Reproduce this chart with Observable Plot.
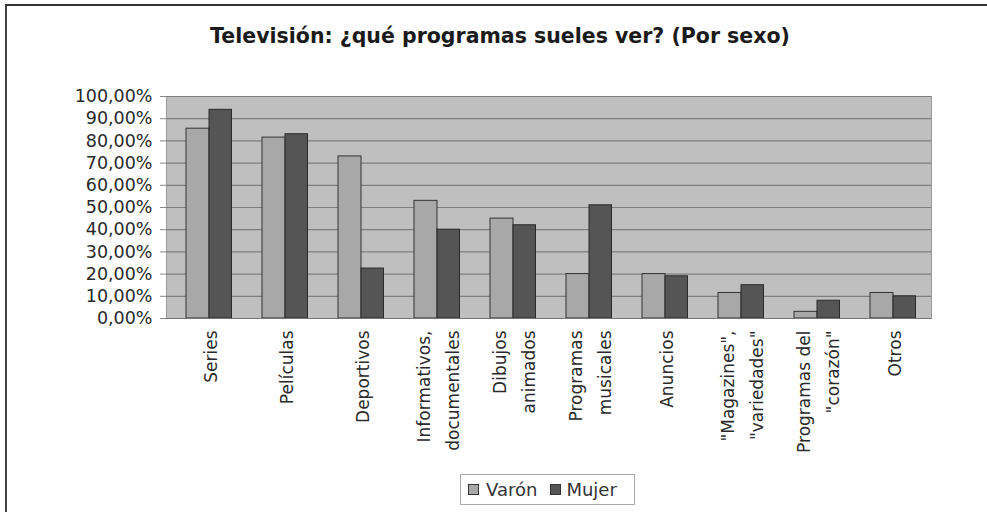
<!DOCTYPE html>
<html>
<head>
<meta charset="utf-8">
<script src="https://cdn.jsdelivr.net/npm/d3@7"></script>
<script src="https://cdn.jsdelivr.net/npm/@observablehq/plot@0.6"></script>
<style>
  html, body { margin: 0; padding: 0; background: #fff; }
  #wrap { position: relative; width: 987px; height: 512px; overflow: hidden; font-family: "DejaVu Sans", sans-serif; color: #222; }
  #border { position: absolute; left: 5px; top: 4px; width: 990px; height: 520px; border-top: 2px solid #333; border-left: 2px solid #444; }
  #title { position: absolute; left: 0; top: 26px; width: 1000px; text-align: center; font-weight: bold; font-size: 20.5px; line-height: 20px; color: #1a1a1a; }
  #chart { position: absolute; left: 0; top: 70px; }
  #legend { position: absolute; left: 460px; top: 474px; width: 173px; height: 29px; border: 1px solid #aaa; display: flex; align-items: center; font-size: 18px; color: #333; }
  .sw { width: 9px; height: 9px; border: 1px solid #333; display: inline-block; }
</style>
</head>
<body>
<div id="wrap">
  <div id="border"></div>
  <div id="title">Televisión: ¿qué programas sueles ver? (Por sexo)</div>
  <div id="chart"></div>
  <div id="legend">
    <span class="sw" style="margin-left:7px;background:#a8a8a8"></span>
    <span style="margin-left:7px">Varón</span>
    <span class="sw" style="margin-left:13px;background:#555"></span>
    <span style="margin-left:5px">Mujer</span>
  </div>
</div>
<script>
const categories = ["Series", "Películas", "Deportivos", "Informativos", "Dibujos", "Musicales", "Anuncios", "Magazines", "Corazón", "Otros"];
const tickLabels = ["Series", "Películas", "Deportivos", "Informativos,\ndocumentales", "Dibujos\nanimados", "Programas\nmusicales", "Anuncios", "\"Magazines\",\n\"variedades\"", "Programas del\n\"corazón\"", "Otros"];
const varon = [85.5, 81.5, 73, 53, 45, 20, 20, 11.5, 3, 11.5];
const mujer = [94, 83, 22.5, 40, 42, 51, 19, 15, 8, 10];
const yTicks = [0, 10, 20, 30, 40, 50, 60, 70, 80, 90, 100];

const dataV = categories.map((c, i) => ({cat: c, value: varon[i]}));
const dataM = categories.map((c, i) => ({cat: c, value: mujer[i]}));
const labelOf = new Map(categories.map((c, i) => [c, tickLabels[i]]));

const chart = Plot.plot({
  width: 987,
  height: 400,
  marginTop: 26,
  marginBottom: 152,
  marginLeft: 166,
  marginRight: 56,
  style: {fontFamily: "DejaVu Sans, sans-serif", color: "#222", background: "transparent"},
  x: {domain: categories, padding: 0, label: null},
  y: {domain: [0, 100], label: null},
  marks: [
    Plot.frame({fill: "#bfbfbf", stroke: "#9a9a9a"}),
    Plot.gridY(yTicks, {stroke: "#7e7e7e", strokeOpacity: 1, strokeWidth: 1.2}),
    Plot.barY(dataV, {x: "cat", y: "value", fill: "#a8a8a8", stroke: "#333", strokeWidth: 1, insetLeft: 17, insetRight: 36}),
    Plot.barY(dataM, {x: "cat", y: "value", fill: "#555555", stroke: "#2a2a2a", strokeWidth: 1, insetLeft: 40, insetRight: 13.5}),
    Plot.ruleY([0], {stroke: "#777"}),
    Plot.axisY(yTicks, {
      tickSize: 6, tickPadding: 8, stroke: "#888",
      fontSize: 17.5, fill: "#2a2a2a",
      tickFormat: d => d.toFixed(2).replace(".", ",") + "%"
    }),
    Plot.axisX({
      tickSize: 0, tickPadding: 12, tickRotate: -90,
      textAnchor: "end", lineAnchor: "middle", lineHeight: 1.68,
      fontSize: 17, fill: "#2a2a2a",
      tickFormat: c => labelOf.get(c)
    })
  ]
});
document.getElementById("chart").appendChild(chart);
</script>
</body>
</html>
